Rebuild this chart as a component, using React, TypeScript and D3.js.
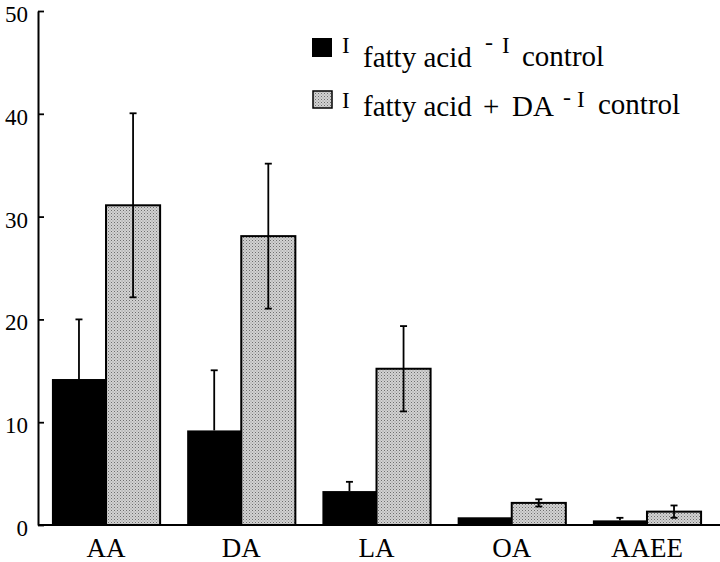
import React, { useEffect, useRef } from "react";
import * as d3 from "d3";

const categories = ["AA", "DA", "LA", "OA", "AAEE"];
const fattyAcid = [14.2, 9.2, 3.3, 0.75, 0.45];
const fattyAcidErr = [5.8, 5.85, 0.9, 0, 0.25];
const fattyAcidDA = [31.1, 28.1, 15.2, 2.15, 1.3];
const fattyAcidDAErr = [8.95, 7.05, 4.15, 0.35, 0.6];
const yTicks = [0, 10, 20, 30, 40, 50];

const W = 720;
const H = 562;
const FONT = "Liberation Serif";

export default function App() {
  const axisRef = useRef<SVGGElement>(null);

  const x = d3
    .scaleBand<string>()
    .domain(categories)
    .range([38.4, 714.6])
    .paddingInner(0.2)
    .paddingOuter(0.1);
  const sub = d3
    .scaleBand<string>()
    .domain(["a", "b"])
    .range([0, x.bandwidth()]);
  const y = d3.scaleLinear().domain([0, 50]).range([525, 11]);

  useEffect(() => {
    if (!axisRef.current) return;
    const g = d3.select(axisRef.current);
    g.selectAll("*").remove();
    g.call(
      d3
        .axisLeft(y)
        .tickValues(yTicks)
        .tickSizeInner(-6)
        .tickSizeOuter(0)
        .tickPadding(10)
        .tickFormat((d) => String(d))
    );
    g.attr("font-family", FONT).attr("font-size", 23);
    g.select(".domain").attr("stroke", "#000").attr("stroke-width", 2);
    g.selectAll(".tick line").attr("stroke", "#000").attr("stroke-width", 1.8);
    g.selectAll(".tick text")
      .style("font-family", FONT)
      .style("font-size", "23px")
      .attr("fill", "#000")
      .attr("dy", "0.46em");
  }, []);

  const capW = 7;

  return (
    <svg
      width={W}
      height={H}
      style={{ position: "absolute", left: 0, top: 0, background: "#fff" }}
    >
      <defs>
        <pattern id="stip" width="3" height="3" patternUnits="userSpaceOnUse">
          <rect width="3" height="3" fill="#d2d2d2" />
          <rect x="0" y="0" width="1" height="1" fill="#6e6e6e" />
          <rect x="1.5" y="1.5" width="1" height="1" fill="#8e8e8e" />
        </pattern>
      </defs>
      <rect width={W} height={H} fill="#fff" />

      {/* black bars */}
      {categories.map((c, i) => {
        const bx = (x(c) ?? 0) + (sub("a") ?? 0);
        const cx = bx + sub.bandwidth() / 2;
        const top = y(fattyAcid[i]);
        const e = fattyAcidErr[i];
        return (
          <g key={"a" + c}>
            {e > 0 && (
              <g stroke="#000" strokeWidth={1.8}>
                <line x1={cx} x2={cx} y1={top} y2={y(fattyAcid[i] + e)} />
                <line
                  x1={cx - capW / 2}
                  x2={cx + capW / 2}
                  y1={y(fattyAcid[i] + e)}
                  y2={y(fattyAcid[i] + e)}
                />
              </g>
            )}
            <rect
              x={bx}
              y={top}
              width={sub.bandwidth()}
              height={y(0) - top}
              fill="#000"
            />
          </g>
        );
      })}

      {/* stippled bars */}
      {categories.map((c, i) => {
        const bx = (x(c) ?? 0) + (sub("b") ?? 0);
        const cx = bx + sub.bandwidth() / 2;
        const top = y(fattyAcidDA[i]);
        const e = fattyAcidDAErr[i];
        const hi = y(fattyAcidDA[i] + e);
        const lo = y(fattyAcidDA[i] - e);
        return (
          <g key={"b" + c}>
            <rect
              x={bx}
              y={top}
              width={sub.bandwidth()}
              height={y(0) - top}
              fill="url(#stip)"
              stroke="#000"
              strokeWidth={2}
            />
            <g stroke="#000" strokeWidth={1.8}>
              <line x1={cx} x2={cx} y1={hi} y2={lo} />
              <line x1={cx - capW / 2} x2={cx + capW / 2} y1={hi} y2={hi} />
              <line x1={cx - capW / 2} x2={cx + capW / 2} y1={lo} y2={lo} />
            </g>
          </g>
        );
      })}

      {/* baseline */}
      <line x1={38} x2={W} y1={y(0)} y2={y(0)} stroke="#000" strokeWidth={2} />

      {/* y axis */}
      <g ref={axisRef} transform={`translate(38,0)`} />

      {/* category labels */}
      {categories.map((c) => (
        <text
          key={"l" + c}
          x={(x(c) ?? 0) + x.bandwidth() / 2}
          y={557}
          textAnchor="middle"
          style={{ fontFamily: FONT, fontSize: "27px" }}
          fill="#000"
        >
          {c}
        </text>
      ))}

      {/* legend */}
      <g style={{ fontFamily: FONT }} fill="#000">
        <rect x={312} y={38} width={20} height={19} fill="#000" />
        <text x={342} y={53} fontSize={23}>I</text>
        <text x={363} y={66.5} fontSize={29}>fatty acid</text>
        <text x={485} y={50} fontSize={24}>-</text>
        <text x={502} y={53} fontSize={23}>I</text>
        <text x={522} y={66} fontSize={29}>control</text>

        <rect
          x={313}
          y={91}
          width={19}
          height={17}
          fill="url(#stip)"
          stroke="#000"
          strokeWidth={1.5}
        />
        <text x={342} y={108} fontSize={23}>I</text>
        <text x={363} y={116} fontSize={29}>fatty acid</text>
        <text x={483} y={116} fontSize={29}>+</text>
        <text x={512} y={116} fontSize={29}>DA</text>
        <text x={563} y={105} fontSize={24}>-</text>
        <text x={577} y={107} fontSize={23}>I</text>
        <text x={598} y={114} fontSize={29}>control</text>
      </g>
    </svg>
  );
}
